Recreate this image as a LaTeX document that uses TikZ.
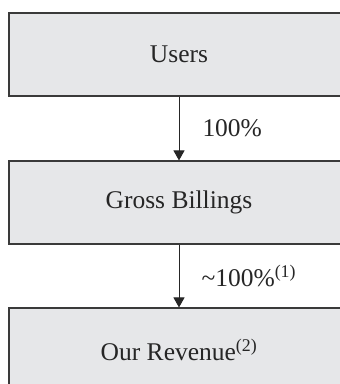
\documentclass[tikz,border=0pt]{standalone}
\usepackage{fontspec}
\setmainfont{Liberation Serif}
\usetikzlibrary{arrows.meta}
\definecolor{boxfill}{HTML}{E6E7E9}
\definecolor{boxline}{HTML}{3A3A3A}
\begin{document}
\begin{tikzpicture}[x=1pt,y=1pt,
  flowbox/.style={draw=boxline, fill=boxfill, line width=1.1pt,
    minimum width=340pt, minimum height=83pt, inner sep=0pt,
    font=\fontsize{25.5}{30}\selectfont, text=black!85},
  flowarrow/.style={draw=black!85, line width=1pt,
    -{Triangle[length=10pt,width=11pt]}},
  flowlabel/.style={font=\fontsize{25.5}{30}\selectfont, text=black!85,
    anchor=west, inner sep=0pt}]
  \useasboundingbox (0,0) rectangle (340,-384);
  \clip (0,0) rectangle (340,-384);
  % the three stages of the flow
  \node[flowbox] (users)   at (179,-54.5)  {Users};
  \node[flowbox] (gross)   at (179,-202.5) {Gross Billings};
  \node[flowbox] (revenue) at (179,-349.5) {Our Revenue\textsuperscript{(2)}};
  % connectors with their shares
  \draw[flowarrow] (users.south) -- (gross.north)
    node[flowlabel, midway, xshift=23pt] (pctA) {100\%};
  \draw[flowarrow] (gross.south) -- (revenue.north)
    node[flowlabel, midway, xshift=22pt] (pctB) {\textasciitilde100\%\textsuperscript{(1)}};
\end{tikzpicture}
\end{document}
